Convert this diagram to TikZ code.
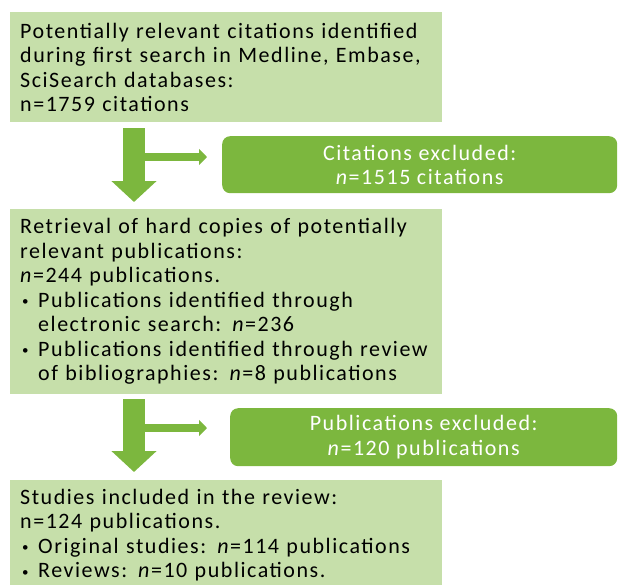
\documentclass[tikz,border=0pt]{standalone}
\usepackage{fontspec}
\setmainfont{Carlito}[LetterSpace=7]
\usetikzlibrary{arrows.meta}

\definecolor{boxgreen}{HTML}{C6DFAA}
\definecolor{exclgreen}{HTML}{7CB73E}

\tikzset{
  stagebox/.style={fill=boxgreen, anchor=north west, inner xsep=10pt, text width=412pt,
    align=left, minimum width=432pt, font=\fontsize{22}{24.5}\selectfont},
  exclbox/.style={fill=exclgreen, rounded corners=8pt, text=white, align=center,
    anchor=north west, font=\fontsize{22}{24.5}\selectfont},
  bigarrow/.style={draw=exclgreen, line width=22pt, -{Triangle[width=44pt,length=21pt]}},
  sidearrow/.style={draw=exclgreen, line width=8pt, -{Triangle[width=16pt,length=8pt]}}
}

% bullet line with hanging indent
\newcommand{\bpoint}{\par\hangindent=18pt\hangafter=1\hspace*{2pt}%
  \makebox[16pt][l]{\raisebox{1.5pt}{\fontsize{13}{13}\selectfont\textbullet}}}

\begin{document}
\begin{tikzpicture}[x=1pt, y=-1pt]
  \useasboundingbox (0,0) rectangle (618,584);
  \clip (0,0) rectangle (618,584);

  % Stage boxes
  \node[stagebox, minimum height=110pt] (search) at (10,12)
    {Potentially relevant citations identified\\
     during first search in Medline, Embase,\\
     SciSearch databases:\\
     n=1759 citations};
  \node[stagebox, minimum height=185pt] (retrieval) at (10,209)
    {Retrieval of hard copies of potentially\\
     relevant publications:\\
     \textit{n}=244 publications.
     \bpoint Publications identified through\newline
     electronic search: \textit{n}=236
     \bpoint Publications identified through review\newline
     of bibliographies: \textit{n}=8 publications\par};
  \node[stagebox, inner ysep=9pt] (included) at (10,480)
    {Studies included in the review:\\
     n=124 publications.
     \bpoint Original studies: \textit{n}=114 publications
     \bpoint Reviews: \textit{n}=10 publications.\par};

  % Excluded boxes
  \node[exclbox, minimum width=395pt, minimum height=57pt] (citexcl) at (222,136)
    {Citations excluded:\\ \textit{n}=1515 citations};
  \node[exclbox, minimum width=387pt, minimum height=58pt] (pubexcl) at (230,408)
    {Publications excluded:\\ \textit{n}=120 publications};

  % Down arrows
  \coordinate (arrowx) at (134,0);
  \draw[bigarrow, shorten <=6pt, shorten >=7pt] (search.south -| arrowx) -- (retrieval.north -| arrowx);
  \draw[bigarrow, shorten <=5pt, shorten >=8pt] (retrieval.south -| arrowx) -- (included.north -| arrowx);

  % Side arrows
  \coordinate (split1) at (134,157);
  \coordinate (split2) at (134,428);
  \draw[sidearrow, shorten >=15pt] (split1) -- (split1 -| citexcl.west);
  \draw[sidearrow, shorten >=23pt] (split2) -- (split2 -| pubexcl.west);
\end{tikzpicture}
\end{document}
